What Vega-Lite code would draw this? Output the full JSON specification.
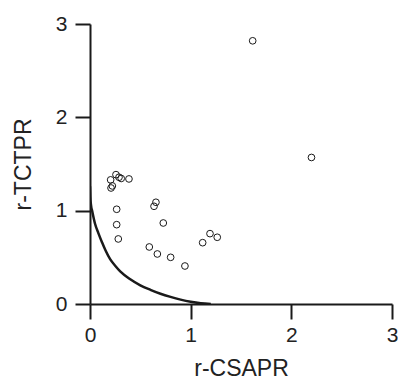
{
  "$schema": "https://vega.github.io/schema/vega-lite/v6.json",
  "width": 302,
  "height": 280,
  "autosize": "none",
  "padding": {"left": 90, "top": 24, "right": 6, "bottom": 77},
  "background": "white",
  "config": {
    "view": {"stroke": null},
    "axis": {
      "grid": false,
      "labelFlush": false,
      "domainColor": "#1a1a1a",
      "domainWidth": 2,
      "tickColor": "#1a1a1a",
      "tickWidth": 2,
      "tickSize": 15,
      "labelFont": "Liberation Sans",
      "labelFontSize": 21,
      "labelColor": "#222222",
      "titleFont": "Liberation Sans",
      "titleFontSize": 23,
      "titleFontWeight": "normal",
      "titleColor": "#222222"
    }
  },
  "datasets": {
    "curve": [
      {"x": 0.0, "y": 1.26},
      {"x": 0.003, "y": 1.15},
      {"x": 0.01, "y": 1.06},
      {"x": 0.023, "y": 0.99},
      {"x": 0.05, "y": 0.86},
      {"x": 0.083, "y": 0.76},
      {"x": 0.12, "y": 0.66},
      {"x": 0.156, "y": 0.57},
      {"x": 0.2, "y": 0.48},
      {"x": 0.25, "y": 0.41},
      {"x": 0.3, "y": 0.35},
      {"x": 0.4, "y": 0.265},
      {"x": 0.5, "y": 0.2},
      {"x": 0.6, "y": 0.152},
      {"x": 0.7, "y": 0.11},
      {"x": 0.8, "y": 0.076},
      {"x": 0.9, "y": 0.047},
      {"x": 1.0, "y": 0.024},
      {"x": 1.1, "y": 0.008},
      {"x": 1.2, "y": 0.0}
    ],
    "points": [
      {"x": 1.616, "y": 2.82},
      {"x": 2.2, "y": 1.57},
      {"x": 0.205, "y": 1.33},
      {"x": 0.258, "y": 1.386},
      {"x": 0.288, "y": 1.358},
      {"x": 0.31, "y": 1.345},
      {"x": 0.387, "y": 1.34},
      {"x": 0.209, "y": 1.243},
      {"x": 0.222, "y": 1.265},
      {"x": 0.265, "y": 1.015},
      {"x": 0.265, "y": 0.85},
      {"x": 0.281, "y": 0.697},
      {"x": 0.655, "y": 1.09},
      {"x": 0.636, "y": 1.047},
      {"x": 0.728, "y": 0.868},
      {"x": 0.589, "y": 0.611},
      {"x": 0.669, "y": 0.536},
      {"x": 0.801, "y": 0.5},
      {"x": 0.943, "y": 0.407},
      {"x": 1.119, "y": 0.657},
      {"x": 1.192, "y": 0.754},
      {"x": 1.264, "y": 0.715}
    ]
  },
  "encoding": {
    "x": {
      "field": "x",
      "type": "quantitative",
      "scale": {"domain": [0, 3], "nice": false, "zero": false},
      "axis": {"title": "r-CSAPR", "values": [0, 1, 2, 3], "format": "d", "labelPadding": 5, "titlePadding": 12}
    },
    "y": {
      "field": "y",
      "type": "quantitative",
      "scale": {"domain": [0, 3], "nice": false, "zero": false},
      "axis": {"title": "r-TCTPR", "values": [0, 1, 2, 3], "format": "d", "labelPadding": 8, "titlePadding": 20}
    }
  },
  "layer": [
    {
      "data": {"name": "curve"},
      "mark": {"type": "line", "color": "#1a1a1a", "strokeWidth": 2.5, "interpolate": "monotone", "clip": true}
    },
    {
      "data": {"name": "points"},
      "mark": {"type": "point", "shape": "circle", "filled": false, "stroke": "#1a1a1a", "strokeWidth": 1, "size": 45, "opacity": 1}
    }
  ]
}
